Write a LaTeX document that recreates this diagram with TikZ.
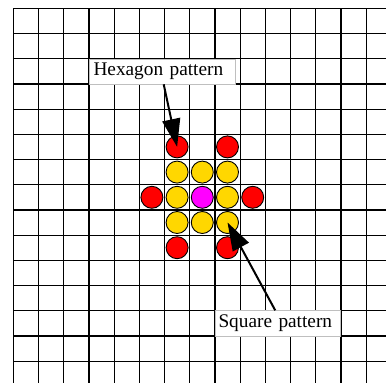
\documentclass[tikz,border=0pt]{standalone}
\usepackage{fontspec}
\setmainfont{Liberation Serif}
\usetikzlibrary{arrows.meta}
\definecolor{cred}{RGB}{255,0,0}
\definecolor{cgold}{RGB}{255,215,0}
\definecolor{cmag}{RGB}{255,0,255}
\begin{document}
\begin{tikzpicture}[x=1pt,y=1pt,
  gridline/.style={line width=1.2pt,black},
  dot/.style={circle,draw=black,line width=0.9pt,minimum size=22pt,inner sep=0pt},
  reddot/.style={dot,fill=cred},
  golddot/.style={dot,fill=cgold},
  magdot/.style={dot,fill=cmag},
  labelbox/.style={rectangle,fill=white,draw=black!25,line width=0.4pt,minimum height=25.2pt,
     inner ysep=0pt,anchor=north west,font=\fontsize{19.3}{22}\selectfont,text height=13pt,text depth=4.5pt},
  pointer/.style={line width=2pt,-{Triangle[length=28pt,width=18pt]}}]
\useasboundingbox (0,0) rectangle (386,-383);
\fill[white] (0,0) rectangle (386,-383);
% grid
\foreach \i in {0,...,14}{
  \draw[gridline] ({13.3+25.2*\i},-8.3) -- ({13.3+25.2*\i},-383);
  \draw[gridline] (13.3,{-8.3-25.2*\i}) -- (386,{-8.3-25.2*\i});
}
% circles: cell centres
\newcommand{\cx}[1]{13.3+25.2*(#1+0.5)}
\newcommand{\cy}[1]{-8.3-25.2*(#1+0.5)}
\foreach \c/\r in {6/6,7/6,8/6,6/7,8/7,6/8,7/8,8/8}{
  \node[golddot] (c\c\r) at ({\cx{\c}},{\cy{\r}}) {};
}
\node[magdot] (c77) at ({\cx{7}},{\cy{7}}) {};
\foreach \c/\r in {6/5,8/5,5/7,9/7,6/9,8/9}{
  \node[reddot] (c\c\r) at ({\cx{\c}},{\cy{\r}}) {};
}
% labels
\node[labelbox,text width=137.4pt,inner xsep=4.6pt] (hex) at (88.7,-58.7) {Hexagon pattern};
\node[labelbox,text width=118.4pt,inner xsep=3.6pt] (sq) at (214.7,-310.3) {Square pattern};
% arrows
\draw[pointer] ([xshift=1.5pt]hex.south) -- (c65.center);
\draw[pointer] ([xshift=-2.5pt]sq.north) -- (c88.center);
\end{tikzpicture}
\end{document}
